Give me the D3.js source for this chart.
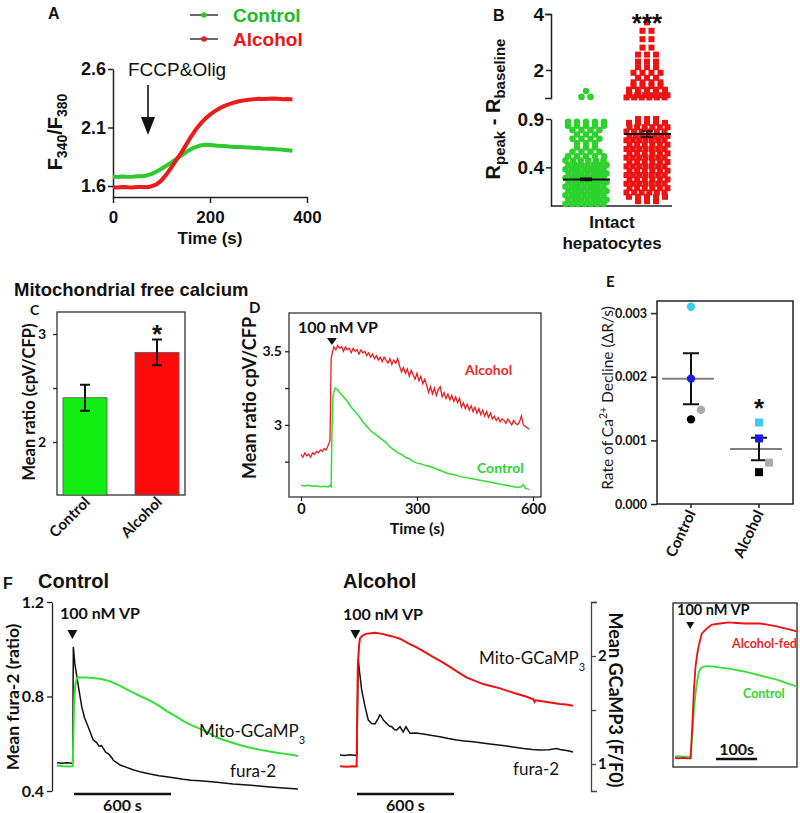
<!DOCTYPE html>
<html>
<head>
<meta charset="utf-8">
<script src="https://cdn.jsdelivr.net/npm/d3@7/dist/d3.min.js"></script>
<style>html,body{margin:0;padding:0;background:#fff;}svg{display:block;}</style>
</head>
<body>
<svg id="fig" width="800" height="813" xmlns="http://www.w3.org/2000/svg"></svg>
<script>
// ================= DATA =================
// Panel A: F340/F380 traces
const aSeries = ["Control", "Alcohol"];
const aTime = [0,10,20,30,40,50,60,70,80,90,100,110,120,130,140,150,160,170,180,190,200,210,220,230,240,250,260,270,280,290,300,310,320,330,340,350,360,370];
const aControl = [1.680,1.676,1.681,1.678,1.680,1.683,1.684,1.690,1.704,1.724,1.748,1.773,1.800,1.829,1.858,1.887,1.913,1.933,1.946,1.952,1.950,1.946,1.942,1.941,1.937,1.934,1.933,1.931,1.929,1.926,1.924,1.921,1.919,1.916,1.913,1.910,1.906,1.902];
const aAlcohol = [1.590,1.588,1.591,1.589,1.588,1.591,1.592,1.590,1.598,1.614,1.648,1.698,1.757,1.818,1.879,1.947,2.016,2.078,2.130,2.174,2.210,2.240,2.265,2.285,2.300,2.314,2.324,2.332,2.338,2.342,2.345,2.343,2.346,2.347,2.345,2.342,2.344,2.340];
const aXTicks = [0, 200, 400];
const aYTicks = [1.6, 2.1, 2.6];

// Panel B: column scatter, value levels and number of cells at each level
const bGreenLevels = [0.02,0.065,0.11,0.155,0.2,0.245,0.29,0.335,0.38,0.425,0.47,0.515,0.56,0.605,0.65,0.695,0.74,0.785,0.83,0.87,1.04,1.25];
const bGreenCounts = [7,7,7,7,7,7,7,7,7,7,6,5,4,3,3,4,3,4,5,5,2,1];
const bRedLevels = [0.05,0.095,0.14,0.185,0.23,0.275,0.32,0.365,0.41,0.455,0.5,0.545,0.59,0.635,0.68,0.725,0.77,0.815,0.86,0.9,1.02,1.1,1.2,1.3,1.42,1.56,1.72,1.9,2.1,2.3,2.55,2.8,3.1,3.4,3.7];
const bRedCounts = [3,5,6,6,7,6,7,6,7,6,7,6,7,6,7,7,6,6,5,3,6,6,5,5,4,4,3,4,3,3,3,2,2,2,1];
const bMeans = [0.275, 0.745];
const bSems = [0.012, 0.03];
const bLowTicks = [0.4, 0.9];
const bHighTicks = [2, 4];

// Panel C: mean ratio bars
const cGroups = ["Control", "Alcohol"];
const cMeans = [2.41, 2.83];
const cErrors = [0.12, 0.12];
const cTicks = [2, 2.5, 3];

// Panel D: cpV/CFP traces [time s, ratio]
const dAlcohol = [[0,2.80],[5,2.78],[10,2.81],[15,2.79],[20,2.80],[25,2.78],[30,2.81],[35,2.80],[40,2.82],[45,2.81],[50,2.83],[55,2.82],[60,2.84],[65,2.83],[70,2.86],[75,2.89],[78,3.45],[82,3.50],[85,3.53],[90,3.51],[95,3.54],[100,3.52],[105,3.53],[110,3.50],[115,3.53],[120,3.51],[125,3.52],[130,3.49],[135,3.52],[140,3.50],[145,3.51],[150,3.48],[155,3.51],[160,3.49],[165,3.50],[170,3.47],[175,3.49],[180,3.46],[185,3.48],[190,3.45],[195,3.47],[200,3.44],[205,3.46],[210,3.43],[215,3.46],[220,3.44],[225,3.42],[230,3.45],[235,3.41],[240,3.44],[245,3.42],[250,3.45],[255,3.40],[260,3.36],[265,3.39],[270,3.35],[275,3.38],[280,3.33],[285,3.37],[290,3.34],[295,3.31],[300,3.35],[305,3.30],[310,3.33],[315,3.28],[320,3.31],[325,3.27],[330,3.22],[335,3.26],[340,3.21],[345,3.25],[350,3.20],[355,3.24],[360,3.26],[365,3.19],[370,3.22],[375,3.18],[380,3.21],[385,3.17],[390,3.20],[395,3.16],[400,3.19],[405,3.15],[410,3.18],[415,3.12],[420,3.15],[425,3.11],[430,3.14],[435,3.10],[440,3.13],[445,3.09],[450,3.12],[455,3.08],[460,3.11],[465,3.07],[470,3.10],[475,3.06],[480,3.09],[485,3.05],[490,3.08],[495,3.04],[500,3.06],[505,3.03],[510,3.05],[515,3.02],[520,3.04],[525,3.03],[530,3.01],[535,3.04],[540,3.02],[545,3.00],[550,3.03],[555,3.01],[560,3.00],[565,3.02],[570,3.06],[575,3.00],[580,2.99],[585,2.98],[590,2.97]];
const dControl = [[0,2.590],[10,2.585],[20,2.590],[30,2.583],[40,2.585],[50,2.580],[60,2.583],[70,2.578],[75,2.590],[78,2.580],[80,2.95],[83,3.20],[88,3.25],[95,3.24],[100,3.22],[110,3.19],[120,3.16],[130,3.12],[140,3.09],[150,3.06],[160,3.02],[170,2.99],[180,2.96],[190,2.94],[200,2.92],[210,2.90],[220,2.88],[230,2.85],[240,2.83],[250,2.81],[260,2.80],[270,2.78],[280,2.77],[290,2.75],[300,2.74],[310,2.735],[320,2.725],[330,2.72],[340,2.71],[350,2.70],[360,2.69],[370,2.68],[380,2.67],[390,2.665],[400,2.66],[410,2.65],[420,2.645],[430,2.64],[440,2.635],[450,2.63],[460,2.625],[470,2.62],[480,2.615],[490,2.61],[500,2.605],[510,2.60],[520,2.595],[530,2.59],[540,2.585],[550,2.58],[560,2.575],[570,2.58],[575,2.595],[580,2.57],[590,2.56]];
const dXTicks = [0, 300, 600];
const dYTicks = [2.75, 3, 3.25, 3.5];
const dStim = 80;

// Panel E: rate of Ca2+ decline, replicates (cyan, blue, grey, black)
const eGroups = ["Control", "Alcohol"];
const eReplicateColors = ["#3dcdf0", "#1a1ae6", "#ababab", "#000000"];
const eControl = [0.00310, 0.00197, 0.00148, 0.00133];
const eAlcohol = [0.00128, 0.00103, 0.00065, 0.00050];
const eTicks = [0, 0.001, 0.002, 0.003];

// Panel F: fura-2 ratio and Mito-GCaMP3 traces [time s, value]
const fFuraControl = [[0,0.520],[30,0.518],[60,0.520],[90,0.517],[97,0.518],[101,1.01],[110,0.94],[126,0.87],[140,0.81],[153,0.757],[170,0.71],[184,0.687],[205,0.65],[224,0.616],[245,0.605],[260,0.59],[275,0.592],[300,0.565],[320,0.556],[340,0.54],[348,0.53],[370,0.52],[390,0.51],[430,0.50],[470,0.49],[520,0.48],[575,0.472],[630,0.465],[678,0.46],[730,0.455],[779,0.45],[830,0.446],[884,0.443],[990,0.437],[1088,0.43],[1200,0.424],[1299,0.418],[1400,0.413],[1490,0.408]];
const fGcampControl = [[0,0.985],[40,0.980],[80,0.978],[97,0.980],[100,1.20],[105,1.55],[112,1.72],[120,1.78],[126,1.80],[180,1.80],[266,1.79],[320,1.77],[369,1.74],[420,1.70],[470,1.66],[520,1.625],[575,1.587],[630,1.54],[678,1.49],[730,1.445],[779,1.40],[830,1.36],[884,1.325],[940,1.285],[988,1.245],[1040,1.218],[1090,1.195],[1140,1.172],[1194,1.15],[1250,1.133],[1297,1.12],[1350,1.107],[1400,1.096],[1450,1.085],[1490,1.075]];
const fFuraAlcohol = [[0,0.552],[30,0.550],[60,0.553],[90,0.551],[105,0.552],[108,0.75],[113,0.96],[120,0.91],[134,0.828],[155,0.757],[175,0.70],[196,0.686],[216,0.684],[237,0.707],[245,0.722],[252,0.72],[268,0.70],[289,0.686],[305,0.675],[320,0.672],[336,0.66],[351,0.658],[371,0.672],[391,0.65],[408,0.672],[433,0.644],[470,0.645],[515,0.641],[570,0.635],[618,0.63],[670,0.622],[722,0.616],[770,0.612],[824,0.608],[880,0.603],[928,0.599],[980,0.595],[1031,0.59],[1080,0.585],[1134,0.58],[1190,0.576],[1237,0.574],[1290,0.575],[1340,0.58],[1360,0.576],[1381,0.574],[1410,0.57],[1441,0.565]];
const fGcampAlcohol = [[0,0.980],[40,0.975],[80,0.980],[103,0.978],[106,1.40],[110,1.90],[118,2.10],[124,2.165],[140,2.19],[160,2.205],[190,2.21],[220,2.215],[260,2.205],[300,2.19],[340,2.175],[371,2.16],[420,2.12],[474,2.08],[520,2.04],[577,1.99],[630,1.945],[680,1.90],[730,1.85],[784,1.80],[835,1.77],[886,1.74],[940,1.72],[990,1.70],[1040,1.675],[1093,1.65],[1150,1.625],[1196,1.60],[1203,1.575],[1210,1.59],[1250,1.58],[1299,1.57],[1360,1.555],[1400,1.55],[1441,1.54]];
const fFuraTicks = [0.4, 0.8, 1.2];
const fGcampTicks = [1, 1.5, 2, 2.5];
const fStim = 95;
const fScaleBar = [105, 705];   // 600 s

// Panel F inset: Mito-GCaMP3, alcohol-fed vs control
const iAlcohol = [[0,0.99],[10,0.985],[20,0.99],[30,0.985],[38,0.985],[42,1.30],[46,1.65],[50,1.88],[54,2.00],[57,2.07],[65,2.20],[77,2.25],[90,2.29],[110,2.30],[130,2.31],[150,2.305],[170,2.30],[190,2.30],[207,2.30],[225,2.29],[245,2.275],[260,2.26],[275,2.245],[290,2.23],[297,2.22]];
const iControl = [[0,1.00],[10,1.005],[20,1.00],[30,1.00],[38,1.00],[42,1.20],[46,1.45],[50,1.62],[54,1.74],[58,1.82],[62,1.86],[70,1.88],[80,1.885],[95,1.88],[110,1.87],[130,1.86],[150,1.845],[170,1.83],[190,1.81],[210,1.79],[230,1.77],[250,1.75],[270,1.72],[285,1.70],[297,1.685]];
const iStim = 37;
const iScaleBar = [100, 200];   // 100 s

// ================= DRAWING =================
const svg = d3.select("#fig");
const AR = "'Liberation Sans', Arial, Helvetica, sans-serif";
const CB = "Lato, 'Open Sans', 'Liberation Sans', sans-serif";
const GREEN = "#2fc92f", RED = "#ee1b1b";

function T(x, y, s, o = {}) {
  const t = svg.append("text").attr("x", x).attr("y", y).text(s)
    .attr("font-family", o.f || AR).attr("font-size", o.s || 14)
    .attr("font-weight", o.w || "bold").attr("fill", o.c || "#111");
  if (o.a) t.attr("text-anchor", o.a);
  if (o.r != null) t.attr("transform", `rotate(${o.r},${x},${y})`);
  return t;
}
function styleAxis(g, font, size, weight, sw = 1.5) {
  g.select(".domain").attr("stroke", "#222").attr("stroke-width", sw);
  g.selectAll(".tick line").attr("stroke", "#222").attr("stroke-width", sw);
  g.selectAll(".tick text").attr("font-family", font).attr("font-size", size)
    .attr("font-weight", weight).attr("fill", "#111");
}
function tri(x, yTop, w, h) {
  svg.append("path").attr("d", `M${x - w / 2},${yTop}L${x + w / 2},${yTop}L${x},${yTop + h}Z`).attr("fill", "#111");
}

// ---------- Panel A ----------
{
  const xA = d3.scaleLinear().domain([0, 400]).range([113, 307]);
  const yA = d3.scaleLinear().domain([1.506, 2.6]).range([197, 69]);
  const gy = svg.append("g").attr("transform", "translate(113,0)")
    .call(d3.axisLeft(yA).tickValues(aYTicks).tickSize(5).tickSizeOuter(0).tickPadding(2).tickFormat(d3.format(".1f")));
  styleAxis(gy, AR, 18, "bold");
  const gx = svg.append("g").attr("transform", "translate(0,197)")
    .call(d3.axisBottom(xA).tickValues(aXTicks).tickSize(6).tickSizeOuter(0).tickPadding(8));
  styleAxis(gx, AR, 17, "bold");
  const line = d3.line().x(d => xA(d[0])).y(d => yA(d[1]));
  const cols = [GREEN, RED];
  [aControl, aAlcohol].forEach((vals, i) => {
    svg.append("path").attr("d", line(d3.zip(aTime, vals))).attr("fill", "none")
      .attr("stroke", cols[i]).attr("stroke-width", 4).attr("stroke-linejoin", "round");
  });
  T(48, 19, "A", { s: 16 });
  T(210, 244, "Time (s)", { s: 17, a: "middle" });
  const yl = svg.append("text").attr("transform", "translate(62,132) rotate(-90)").attr("text-anchor", "middle")
    .attr("font-family", AR).attr("font-weight", "bold").attr("font-size", 20).attr("fill", "#111");
  yl.append("tspan").text("F");
  yl.append("tspan").attr("font-size", 14).attr("dy", 5).text("340");
  yl.append("tspan").attr("dy", -5).text("/F");
  yl.append("tspan").attr("font-size", 14).attr("dy", 5).text("380");
  // legend
  aSeries.forEach((s, i) => {
    const y = 15 + i * 24;
    svg.append("line").attr("x1", 190).attr("x2", 218).attr("y1", y).attr("y2", y).attr("stroke", "#444").attr("stroke-width", 1.6);
    svg.append("circle").attr("cx", 204).attr("cy", y).attr("r", 2.8).attr("fill", cols[i]);
    T(233, y + 7, s, { s: 19, c: i ? "#ee1414" : "#22bb22" });
  });
  // annotation
  T(128, 76, "FCCP&Olig", { s: 19, w: "normal" });
  svg.append("line").attr("x1", 148).attr("x2", 148).attr("y1", 85).attr("y2", 120).attr("stroke", "#111").attr("stroke-width", 1.6);
  svg.append("path").attr("d", "M141,117L155,117L148,135Z").attr("fill", "#111");
}

// ---------- Panel B ----------
{
  const yLo = d3.scaleLinear().domain([0, 0.9]).range([206, 119]);
  const yHi = d3.scaleLinear().domain([1, 4]).range([98, 14]);
  const yB = v => v < 0.95 ? yLo(v) : yHi(v);
  const xB = d3.scalePoint().domain(["Control", "Alcohol"]).range([586, 647]);
  const g1 = svg.append("g").attr("transform", "translate(551,0)")
    .call(d3.axisLeft(yLo).tickValues(bLowTicks).tickSize(5).tickSizeOuter(0).tickPadding(2).tickFormat(d3.format(".1f")));
  styleAxis(g1, AR, 19, "bold");
  const g2 = svg.append("g").attr("transform", "translate(551,0)")
    .call(d3.axisLeft(yHi).tickValues(bHighTicks).tickSize(5).tickSizeOuter(6).tickPadding(2).tickFormat(d => String(d)));
  styleAxis(g2, AR, 19, "bold");
  svg.append("line").attr("x1", 551).attr("x2", 672).attr("y1", 206).attr("y2", 206).attr("stroke", "#222").attr("stroke-width", 1.5);
  function rows(levels, counts, cx) {
    const pts = [];
    levels.forEach((v, r) => {
      const n = counts[r];
      const sp = n > 1 ? Math.min(9, 38 / (n - 1)) : 0;
      const off = n >= 6 ? (r % 2 ? 1.5 : -1.5) : 0;
      for (let i = 0; i < n; i++) pts.push({ v, x: cx + (i - (n - 1) / 2) * sp + off });
    });
    return pts;
  }
  const gp = rows(bGreenLevels, bGreenCounts, xB("Control"));
  svg.append("g").selectAll("circle").data(gp).join("circle")
    .attr("cx", d => d.x).attr("cy", d => yB(d.v)).attr("r", 3.3).attr("fill", "#2ed12e");
  const rp = rows(bRedLevels, bRedCounts, xB("Alcohol"));
  svg.append("g").selectAll("rect").data(rp).join("rect")
    .attr("x", d => d.x - 3).attr("y", d => yB(d.v) - 3).attr("width", 6).attr("height", 6).attr("fill", "#ee1313");
  ["Control", "Alcohol"].forEach((k, i) => {
    const cx = xB(k), m = yB(bMeans[i]);
    svg.append("line").attr("x1", cx - 23).attr("x2", cx + 24).attr("y1", m).attr("y2", m).attr("stroke", "#111").attr("stroke-width", 2);
    const t = yB(bMeans[i] + bSems[i]), b = yB(bMeans[i] - bSems[i]);
    svg.append("path").attr("d", `M${cx - 6},${t}H${cx + 6}M${cx},${t}V${b}M${cx - 6},${b}H${cx + 6}`).attr("stroke", "#111").attr("stroke-width", 1.5).attr("fill", "none");
  });
  T(493, 21, "B", { s: 16 });
  T(647, 32, "***", { s: 26, a: "middle" });
  T(612, 228, "Intact", { s: 17, a: "middle" });
  T(612, 249, "hepatocytes", { s: 17, a: "middle" });
  const yl = svg.append("text").attr("transform", "translate(500,109) rotate(-90)").attr("text-anchor", "middle")
    .attr("font-family", AR).attr("font-weight", "bold").attr("font-size", 20).attr("fill", "#111");
  yl.append("tspan").text("R");
  yl.append("tspan").attr("font-size", 15).attr("dy", 5).text("peak");
  yl.append("tspan").attr("dy", -5).text(" - R");
  yl.append("tspan").attr("font-size", 15).attr("dy", 5).text("baseline");
}

// ---------- Title ----------
T(14, 296, "Mitochondrial free calcium", { s: 18.5 });

// ---------- Panel C ----------
{
  const xC = d3.scaleBand().domain(cGroups).range([57, 185]).paddingInner(0.389).paddingOuter(0.083);
  const yC = d3.scaleLinear().domain([1.509, 3.204]).range([495, 312]);
  svg.append("rect").attr("x", 57).attr("y", 312).attr("width", 128).attr("height", 183).attr("fill", "none").attr("stroke", "#333").attr("stroke-width", 1.3);
  const gy = svg.append("g").attr("transform", "translate(57,0)")
    .call(d3.axisLeft(yC).tickValues(cTicks).tickSize(4).tickSizeOuter(0).tickPadding(7).tickFormat(d => Number.isInteger(d) ? d : ""));
  gy.select(".domain").remove();
  styleAxis(gy, CB, 14, "bold", 1.3);
  const cols = ["#12ee12", "#ff0a0a"];
  cGroups.forEach((g, i) => {
    svg.append("rect").attr("x", xC(g)).attr("y", yC(cMeans[i])).attr("width", xC.bandwidth())
      .attr("height", yC(1.509) - yC(cMeans[i])).attr("fill", cols[i]).attr("stroke", "#555").attr("stroke-width", 0.8);
    const cx = xC(g) + xC.bandwidth() / 2, t = yC(cMeans[i] + cErrors[i]), b = yC(cMeans[i] - cErrors[i]);
    svg.append("path").attr("d", `M${cx - 5},${t}H${cx + 5}M${cx},${t}V${b}M${cx - 5},${b}H${cx + 5}`).attr("stroke", "#111").attr("stroke-width", 2).attr("fill", "none");
    T(cx + 6, 503, g, { f: CB, s: 15, a: "end", r: -45 });
  });
  T(157, 343, "*", { s: 26, a: "middle" });
  T(30, 315, "C", { f: CB, s: 14 });
  T(35, 402, "Mean ratio (cpV/CFP)", { f: CB, s: 16.5, a: "middle", r: -90 });
}

// ---------- Panel D ----------
{
  const xD = d3.scaleLinear().domain([0, 600]).range([301, 533]);
  const yD = d3.scaleLinear().domain([2.51, 3.76]).range([497, 313]);
  svg.append("rect").attr("x", 289).attr("y", 313).attr("width", 252).attr("height", 184).attr("fill", "none").attr("stroke", "#333").attr("stroke-width", 1.3);
  const gy = svg.append("g").attr("transform", "translate(289,0)")
    .call(d3.axisLeft(yD).tickValues(dYTicks).tickSize(4).tickSizeOuter(0).tickPadding(3).tickFormat(d => (d === 3 || d === 3.5) ? d : ""));
  gy.select(".domain").remove();
  styleAxis(gy, CB, 14, "bold", 1.3);
  const gx = svg.append("g").attr("transform", "translate(0,497)")
    .call(d3.axisBottom(xD).tickValues(dXTicks).tickSize(4).tickSizeOuter(0).tickPadding(3));
  gx.select(".domain").remove();
  styleAxis(gx, CB, 14.5, "bold", 1.3);
  const line = d3.line().x(d => xD(d[0])).y(d => yD(d[1]));
  svg.append("path").attr("d", line(dAlcohol)).attr("fill", "none").attr("stroke", "#ee1c1c").attr("stroke-width", 1.3);
  svg.append("path").attr("d", line(dControl)).attr("fill", "none").attr("stroke", "#2ee02e").attr("stroke-width", 1.5);
  tri(xD(dStim), 338, 10, 7);
  T(298, 333, "100 nM VP", { f: CB, s: 16 });
  T(465, 375, "Alcohol", { f: CB, s: 14, c: "#e62a2a" });
  T(477, 473, "Control", { f: CB, s: 14, c: "#2ed42e" });
  T(417, 534, "Time (s)", { f: CB, s: 16, a: "middle" });
  T(249, 313, "D", { f: CB, s: 15 });
  T(256, 398, "Mean ratio cpV/CFP", { f: CB, s: 18, a: "middle", r: -90 });
}

// ---------- Panel E ----------
{
  const xE = d3.scalePoint().domain(eGroups).range([691, 759]);
  const yE = d3.scaleLinear().domain([0, 0.00319]).range([504, 301]);
  svg.append("rect").attr("x", 657).attr("y", 301).attr("width", 136).attr("height", 203).attr("fill", "none").attr("stroke", "#222").attr("stroke-width", 1.5);
  const gy = svg.append("g").attr("transform", "translate(657,0)")
    .call(d3.axisLeft(yE).tickValues(eTicks).tickSize(6).tickSizeOuter(0).tickPadding(4).tickFormat(d3.format(".3f")));
  gy.select(".domain").remove();
  styleAxis(gy, CB, 12.5, "bold", 1.5);
  [eControl, eAlcohol].forEach((vals, gi) => {
    const cx = xE(eGroups[gi]);
    const m = d3.mean(vals), sem = d3.deviation(vals) / Math.sqrt(vals.length);
    svg.append("line").attr("x1", cx - 29).attr("x2", cx + 23).attr("y1", yE(m)).attr("y2", yE(m)).attr("stroke", "#808080").attr("stroke-width", 2);
    const t = yE(m + sem), b = yE(m - sem);
    svg.append("path").attr("d", `M${cx - 8},${t}H${cx + 8}M${cx},${t}V${b}M${cx - 8},${b}H${cx + 8}`).attr("stroke", "#111").attr("stroke-width", 2).attr("fill", "none");
    vals.forEach((v, k) => {
      const x = cx + (k === 2 ? 10 : 0), y = yE(v);
      if (gi === 0) svg.append("circle").attr("cx", x).attr("cy", y).attr("r", 4.2).attr("fill", eReplicateColors[k]);
      else svg.append("rect").attr("x", x - 4).attr("y", y - 4).attr("width", 8).attr("height", 8).attr("fill", eReplicateColors[k]);
    });
    svg.append("line").attr("x1", cx).attr("x2", cx).attr("y1", 504).attr("y2", 508).attr("stroke", "#222").attr("stroke-width", 1.5);
    T(cx + 5, 513, eGroups[gi], { f: CB, s: 15, a: "end", r: -65 });
  });
  T(759, 417, "*", { s: 26, a: "middle" });
  T(606, 287, "E", { f: CB, s: 15 });
  const yl = svg.append("text").attr("transform", "translate(613,398) rotate(-90)").attr("text-anchor", "middle")
    .attr("font-family", CB).attr("font-size", 15.5).attr("fill", "#1a1a1a");
  yl.append("tspan").text("Rate of Ca");
  yl.append("tspan").attr("font-size", 10.5).attr("dy", -6).text("2+");
  yl.append("tspan").attr("dy", 6).text(" Decline (ΔR/s)");
}

// ---------- Panel F ----------
{
  const yFura = d3.scaleLinear().domain([0.4, 1.2]).range([791, 602]);
  const yG = d3.scaleLinear().domain([0.75, 2.5]).range([791, 602]);
  const xC = d3.scaleLinear().domain([0, 1490]).range([57, 298]);
  const xA = d3.scaleLinear().domain([0, 1441]).range([340, 573]);
  const gl = svg.append("g").attr("transform", "translate(52,0)")
    .call(d3.axisLeft(yFura).tickValues(fFuraTicks).tickSize(5).tickSizeOuter(0).tickPadding(3).tickFormat(d3.format(".1f")));
  styleAxis(gl, CB, 16, "bold", 1.3);
  const gr = svg.append("g").attr("transform", "translate(591,0)")
    .call(d3.axisRight(yG).tickValues(fGcampTicks).tickSize(5).tickSizeOuter(6).tickPadding(2).tickFormat(d => Number.isInteger(d) ? d : ""));
  styleAxis(gr, CB, 15, "bold", 1.3);
  gr.selectAll("path,line").attr("stroke", "#444");
  // control traces
  const lfC = d3.line().x(d => xC(d[0])).y(d => yFura(d[1]));
  const lgC = d3.line().x(d => xC(d[0])).y(d => yG(d[1]));
  svg.append("path").attr("d", lfC(fFuraControl)).attr("fill", "none").attr("stroke", "#111").attr("stroke-width", 1.5);
  svg.append("path").attr("d", lgC(fGcampControl)).attr("fill", "none").attr("stroke", "#33e033").attr("stroke-width", 2);
  // alcohol traces
  const lfA = d3.line().x(d => xA(d[0])).y(d => yFura(d[1]));
  const lgA = d3.line().x(d => xA(d[0])).y(d => yG(d[1]));
  svg.append("path").attr("d", lfA(fFuraAlcohol)).attr("fill", "none").attr("stroke", "#111").attr("stroke-width", 1.5);
  svg.append("path").attr("d", lgA(fGcampAlcohol)).attr("fill", "none").attr("stroke", "#ee1111").attr("stroke-width", 2);
  // scale bars
  [xC, xA].forEach(x => {
    svg.append("line").attr("x1", x(fScaleBar[0])).attr("x2", x(fScaleBar[1])).attr("y1", 794).attr("y2", 794).attr("stroke", "#111").attr("stroke-width", 2.5);
    T((x(fScaleBar[0]) + x(fScaleBar[1])) / 2, 811, "600 s", { f: CB, s: 16, a: "middle" });
  });
  tri(xC(fStim), 630, 10, 9);
  tri(xA(fStim), 630, 10, 9);
  T(60, 619, "100 nM VP", { f: CB, s: 16 });
  T(343, 620, "100 nM VP", { f: CB, s: 16 });
  function mito(x, y) {
    const t = svg.append("text").attr("x", x).attr("y", y).attr("font-family", CB).attr("font-size", 17).attr("fill", "#111");
    t.append("tspan").text("Mito-GCaMP");
    t.append("tspan").attr("font-size", 11).attr("dy", 7).text("3");
  }
  mito(199, 737); mito(479, 664);
  T(230, 777, "fura-2", { f: CB, s: 17, w: "normal" });
  T(513, 775, "fura-2", { f: CB, s: 17, w: "normal" });
  T(3, 589, "F", { s: 16 });
  T(38, 588, "Control", { s: 20 });
  T(343, 588, "Alcohol", { s: 20 });
  T(19, 697, "Mean fura-2 (ratio)", { f: CB, s: 17.5, a: "middle", r: -90 });
  T(609, 700, "Mean GCaMP3 (F/F0)", { f: CB, s: 18, a: "middle", r: 90 });

  // inset
  const xI = d3.scaleLinear().domain([0, 297]).range([675, 797]);
  const yI = d3.scaleLinear().domain([0.9, 2.5]).range([767, 603]);
  svg.append("rect").attr("x", 673).attr("y", 603).attr("width", 124).attr("height", 164).attr("fill", "none").attr("stroke", "#333").attr("stroke-width", 1.4);
  const li = d3.line().x(d => xI(d[0])).y(d => yI(d[1]));
  svg.append("path").attr("d", li(iControl)).attr("fill", "none").attr("stroke", "#33e033").attr("stroke-width", 1.8);
  svg.append("path").attr("d", li(iAlcohol)).attr("fill", "none").attr("stroke", "#ee1111").attr("stroke-width", 1.8);
  tri(xI(iStim), 622, 8, 7);
  T(677, 615, "100 nM VP", { f: CB, s: 14.5 });
  T(732, 648, "Alcohol-fed", { f: CB, s: 12.5, c: "#e62a2a" });
  T(743, 698, "Control", { f: CB, s: 12.5, c: "#2ed42e" });
  svg.append("line").attr("x1", xI(iScaleBar[0])).attr("x2", xI(iScaleBar[1])).attr("y1", 759).attr("y2", 759).attr("stroke", "#111").attr("stroke-width", 2.5);
  T((xI(iScaleBar[0]) + xI(iScaleBar[1])) / 2, 755, "100s", { f: CB, s: 16, a: "middle" });
}
</script>
</body>
</html>
